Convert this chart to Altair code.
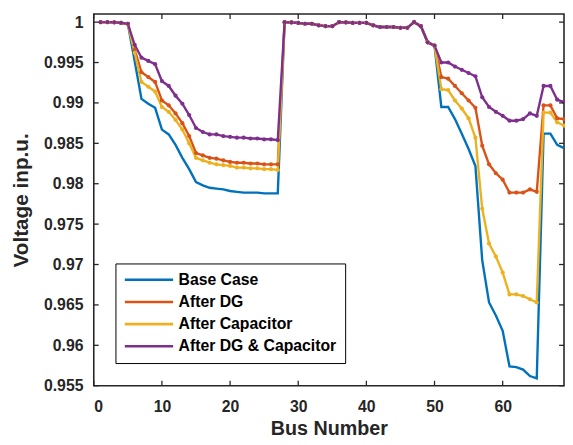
import altair as alt
import pandas as pd

bus = list(range(1, 70))

series_names = ["Base Case", "After DG", "After Capacitor", "After DG & Capacitor"]
colors = ["#0072BD", "#D95319", "#EDB120", "#7E2F8E"]

base_case = [
    1.0, 1.0, 0.99998, 0.9999, 0.9998,
    0.9952, 0.9905, 0.9899, 0.9894, 0.9867, 0.9861, 0.9848, 0.9832, 0.9818, 0.9802,
    0.9798, 0.9795, 0.9794, 0.9793, 0.9791, 0.9790, 0.9789, 0.9789, 0.9789, 0.9788,
    0.9788, 0.9788,
    1.0, 0.99996, 0.9999, 0.9998, 0.9998, 0.9996, 0.9995, 0.9995, 1.0, 0.99996,
    0.9999, 0.9999, 0.9999, 0.9996, 0.9994, 0.9994, 0.9994, 0.9993, 0.9993, 1.0,
    0.9995, 0.9975, 0.9971,
    0.9895, 0.9895, 0.9880, 0.9862, 0.9843, 0.9822, 0.9705, 0.9653, 0.9637, 0.9618,
    0.9574, 0.9573, 0.9570, 0.9562, 0.9559, 0.9862, 0.9862, 0.9848, 0.9844,
]
after_dg = [
    1.0, 1.0, 0.99998, 0.9999, 0.9998,
    0.9966, 0.9938, 0.9932, 0.9926, 0.9903, 0.9897, 0.9887, 0.9875, 0.9859, 0.9838,
    0.9835, 0.9832, 0.9831, 0.9829, 0.9827, 0.9826, 0.9826, 0.9825, 0.9825, 0.9824,
    0.9824, 0.9824,
    1.0, 0.99996, 0.9999, 0.9998, 0.9998, 0.9996, 0.9995, 0.9995, 1.0, 0.99996,
    0.9999, 0.9999, 0.9999, 0.9996, 0.9994, 0.9994, 0.9994, 0.9993, 0.9993, 1.0,
    0.9995, 0.9975, 0.9971,
    0.9932, 0.9930, 0.9921, 0.9912, 0.9903, 0.9894, 0.9847, 0.9824, 0.9813, 0.9805,
    0.9789, 0.9789, 0.9789, 0.9793, 0.9790, 0.9897, 0.9897, 0.9881, 0.9880,
]
after_capacitor = [
    1.0, 1.0, 0.99998, 0.9999, 0.9998,
    0.9962, 0.9926, 0.9920, 0.9914, 0.9895, 0.9889, 0.9879, 0.9867, 0.9850, 0.9832,
    0.9829, 0.9826, 0.9824, 0.9823, 0.9822, 0.9820, 0.9820, 0.9819, 0.9819, 0.9818,
    0.9818, 0.9817,
    1.0, 0.99996, 0.9999, 0.9998, 0.9998, 0.9996, 0.9995, 0.9995, 1.0, 0.99996,
    0.9999, 0.9999, 0.9999, 0.9996, 0.9994, 0.9994, 0.9994, 0.9993, 0.9993, 1.0,
    0.9995, 0.9975, 0.9971,
    0.9917, 0.9916, 0.9903, 0.9893, 0.9881, 0.9857, 0.9769, 0.9726, 0.9710, 0.9690,
    0.9663, 0.9663, 0.9661, 0.9657, 0.9653, 0.9888, 0.9888, 0.9876, 0.9872,
]
after_dg_capacitor = [
    1.0, 1.0, 0.99998, 0.9999, 0.9998,
    0.9972, 0.9956, 0.9952, 0.9948, 0.9927, 0.9921, 0.9909, 0.9899, 0.9885, 0.9869,
    0.9864, 0.9861, 0.9861, 0.9859, 0.9858, 0.9857, 0.9857, 0.9856, 0.9856, 0.9855,
    0.9855, 0.9854,
    1.0, 0.99996, 0.9999, 0.9998, 0.9998, 0.9996, 0.9995, 0.9995, 1.0, 0.99996,
    0.9999, 0.9999, 0.9999, 0.9996, 0.9994, 0.9994, 0.9994, 0.9993, 0.9993, 1.0,
    0.9995, 0.9975, 0.9971,
    0.9950, 0.9950, 0.9945, 0.9941, 0.9937, 0.9933, 0.9907, 0.9895, 0.9889, 0.9884,
    0.9878, 0.9878, 0.9880, 0.9887, 0.9884, 0.9921, 0.9921, 0.9904, 0.9901,
]

x_ticks = [0, 10, 20, 30, 40, 50, 60]
y_ticks = [0.955, 0.96, 0.965, 0.97, 0.975, 0.98, 0.985, 0.99, 0.995, 1.0]

rows = []
for name, vals in zip(series_names,
                      [base_case, after_dg, after_capacitor, after_dg_capacitor]):
    for b, v in zip(bus, vals):
        rows.append({"bus": b, "v": v, "series": name})
df = pd.DataFrame(rows)
xdf = pd.DataFrame({"bus": x_ticks})
ydf = pd.DataFrame({"v": y_ticks})

W, H = 477, 377
FONT = "Liberation Sans"
INK = "#262626"

xs = alt.Scale(domain=[0, 69], nice=False, zero=False)
ys = alt.Scale(domain=[0.955, 1.001], nice=False, zero=False)

color = alt.Color(
    "series:N",
    scale=alt.Scale(domain=series_names, range=colors),
    legend=alt.Legend(
        orient="none", legendX=22, legendY=253, title=None,
        symbolType="stroke", symbolSize=2400, symbolStrokeWidth=2.6,
        clipHeight=17, rowPadding=5.5, labelOffset=4, padding=8,
        labelFont=FONT, labelFontSize=16, labelFontWeight="bold",
        labelColor="black", labelLimit=400,
        strokeColor="black", fillColor="white",
    ),
)

lines = alt.Chart(df).mark_line(strokeWidth=2.4).encode(
    x=alt.X("bus:Q", scale=xs,
            axis=alt.Axis(values=x_ticks, title="Bus Number", labelPadding=13,
                          titleY=44, titleBaseline="middle")),
    y=alt.Y("v:Q", scale=ys,
            axis=alt.Axis(values=y_ticks, format="~g", title="Voltage inp.u.",
                          labelPadding=11, titleAngle=270, titleX=-73,
                          titleY=H / 2, titleBaseline="middle",
                          titleAlign="center", titleFontSize=21)),
    color=color,
)

points = alt.Chart(df).transform_filter(
    alt.datum.series != "Base Case"
).mark_point(filled=True, size=18, opacity=1).encode(
    x=alt.X("bus:Q", scale=xs),
    y=alt.Y("v:Q", scale=ys),
    color=color,
)

tick_style = dict(color=INK, strokeWidth=1.3)
left_ticks = alt.Chart(ydf).mark_rule(**tick_style).encode(
    y=alt.Y("v:Q", scale=ys), x=alt.value(0), x2=alt.value(5))
right_ticks = alt.Chart(ydf).mark_rule(**tick_style).encode(
    y=alt.Y("v:Q", scale=ys), x=alt.value(W - 5), x2=alt.value(W))
bottom_ticks = alt.Chart(xdf).mark_rule(**tick_style).encode(
    x=alt.X("bus:Q", scale=xs), y=alt.value(H - 5), y2=alt.value(H))
top_ticks = alt.Chart(xdf).mark_rule(**tick_style).encode(
    x=alt.X("bus:Q", scale=xs), y=alt.value(0), y2=alt.value(5))

chart = alt.layer(
    lines, points, left_ticks, right_ticks, bottom_ticks, top_ticks
).properties(
    width=W, height=H,
    autosize=alt.AutoSizeParams(type="none"),
    padding={"left": 87, "top": 3, "right": 1, "bottom": 57},
).configure_view(
    stroke=INK, strokeWidth=1.6
).configure_axis(
    grid=False, domain=False, ticks=False,
    labelFont=FONT, labelFontSize=16, labelFontWeight="bold", labelColor=INK,
    titleFont=FONT, titleFontSize=20, titleFontWeight="bold", titleColor=INK,
)

chart.save("out.html", embed_options={"renderer": "svg", "actions": False})
